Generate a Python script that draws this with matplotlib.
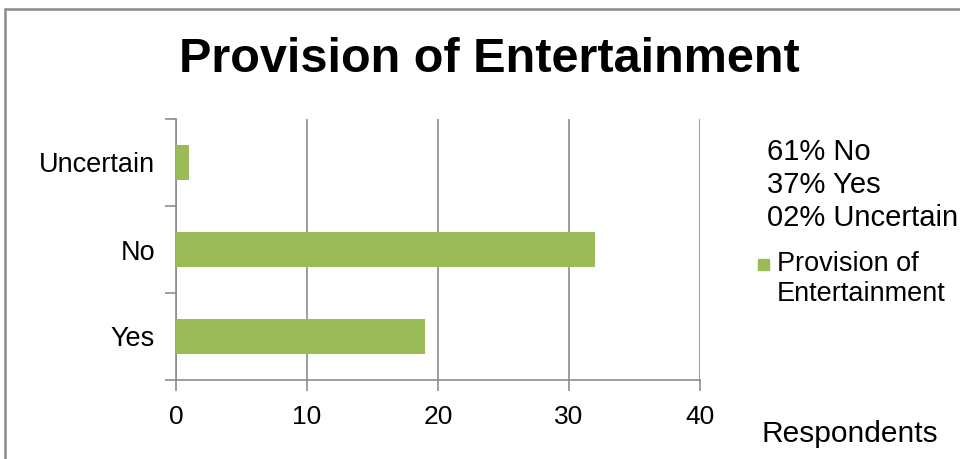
import matplotlib.pyplot as plt
from matplotlib.patches import Rectangle

# survey answers, drawn bottom to top
categories = ['Yes', 'No', 'Uncertain']
respondents = [19, 32, 1]
summary_lines = ['61% No', '37% Yes', '02% Uncertain']
series_lines = ['Provision of', 'Entertainment']
x_ticks = [0, 10, 20, 30, 40]

plt.rcParams['font.family'] = ['Liberation Sans', 'DejaVu Sans']

bar_color = '#9BBB59'
grid_color = '#8C8C8C'

fig = plt.figure(figsize=(9.6, 4.59), dpi=100)

# chart frame (runs off the right and bottom edges)
fig.patches.append(Rectangle((5 / 960, -0.1), 1.0, 1 - 9 / 459 + 0.1,
                             transform=fig.transFigure, fill=False,
                             edgecolor='#8A8A8A', linewidth=1.8))

ax = fig.add_axes([176 / 960, 1 - 380 / 459, 524 / 960, 261 / 459])
ax.barh(range(len(categories)), respondents, height=0.4, color=bar_color,
        zorder=3)

ax.set_xlim(0, 40)
ax.set_ylim(-0.5, len(categories) - 0.5)
ax.set_xticks(x_ticks)
ax.set_yticks([-0.5, 0.5, 1.5, 2.5])
ax.set_yticklabels([])
ax.set_yticks(range(len(categories)), minor=True)
ax.set_yticklabels(categories, minor=True, fontsize=19.5)
ax.tick_params(axis='y', which='minor', length=0, pad=15)
ax.tick_params(axis='y', which='major', length=8, color=grid_color, width=1.2)
ax.tick_params(axis='x', length=8, color=grid_color, width=1.2, labelsize=19,
               pad=10)

for spine in ['top', 'right']:
    ax.spines[spine].set_visible(False)
for spine in ['left', 'bottom']:
    ax.spines[spine].set_color(grid_color)
    ax.spines[spine].set_linewidth(1.2)

ax.grid(axis='x', color=grid_color, linewidth=1.2, zorder=0)

fig.text(489 / 960, 1 - 60 / 459, 'Provision of Entertainment',
         fontsize=35, fontweight='bold', ha='center', va='center')

for i, line in enumerate(summary_lines):
    fig.text(767 / 960, 1 - (152 + 33 * i) / 459, line, fontsize=21,
             va='center', ha='left')

# legend entry for the bar series
fig.patches.append(Rectangle((758 / 960, 1 - 270 / 459), 11 / 960, 11 / 459,
                             transform=fig.transFigure, color=bar_color))
for i, line in enumerate(series_lines):
    fig.text(777 / 960, 1 - (264 + 30 * i) / 459, line, fontsize=19.5,
             va='center', ha='left')

fig.text(762 / 960, 1 - 434 / 459, 'Respondents', fontsize=21.5, va='center',
         ha='left')

fig.savefig('out.png', dpi=100)
